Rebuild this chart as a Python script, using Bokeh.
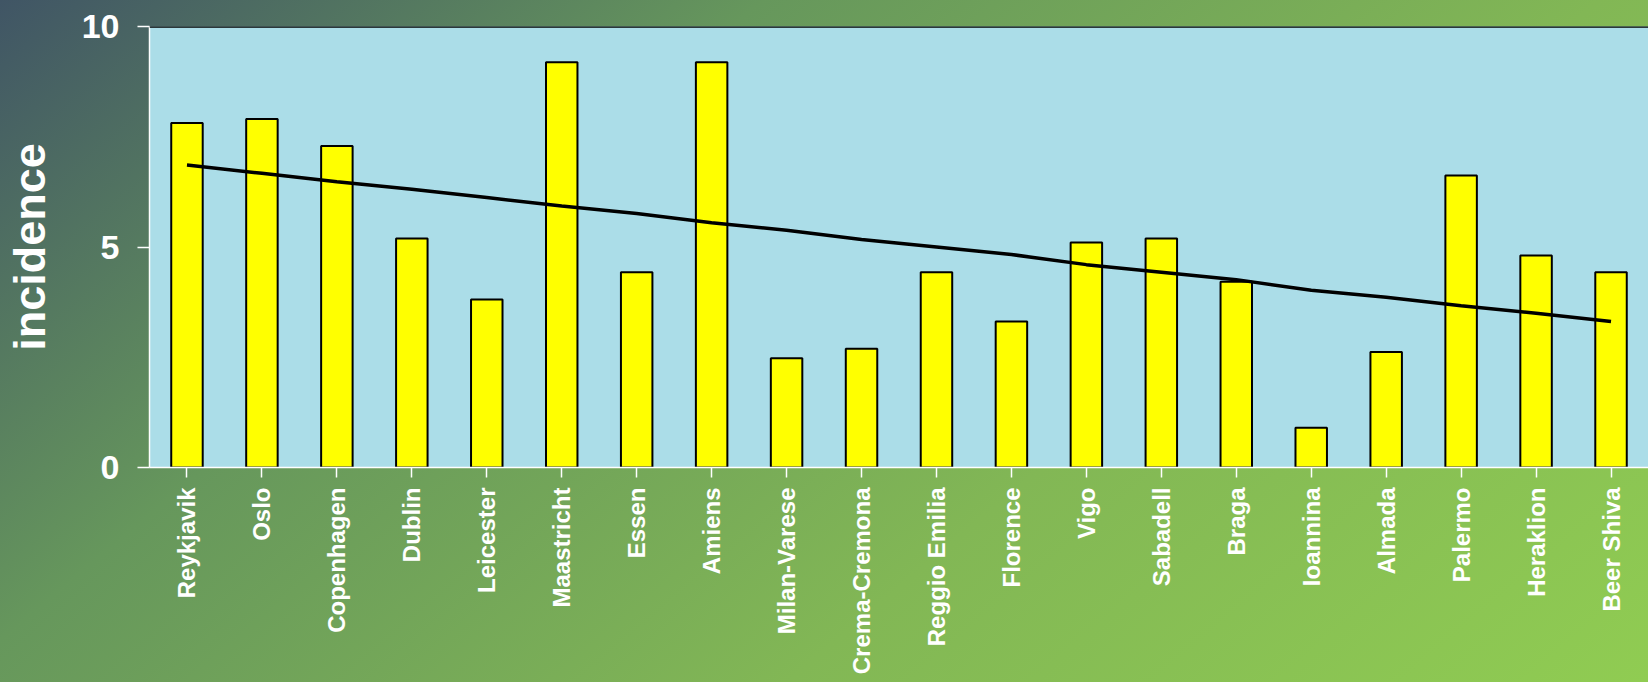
import math
from bokeh.plotting import figure
from bokeh.models import FactorRange, Range1d, FixedTicker, Span
from bokeh.embed import file_html
from bokeh.resources import INLINE

cities = ["Reykjavik", "Oslo", "Copenhagen", "Dublin", "Leicester", "Maastricht",
          "Essen", "Amiens", "Milan-Varese", "Crema-Cremona", "Reggio Emilia",
          "Florence", "Vigo", "Sabadell", "Braga", "Ioannina", "Almada",
          "Palermo", "Heraklion", "Beer Shiva"]
incidence = [7.81, 7.9, 7.29, 5.19, 3.81, 9.19, 4.43, 9.19, 2.48, 2.69, 4.43,
             3.31, 5.1, 5.19, 4.21, 0.9, 2.62, 6.62, 4.81, 4.43]
trend = [6.86, 6.67, 6.48, 6.31, 6.12, 5.93, 5.76, 5.55, 5.38, 5.17, 5.0,
         4.83, 4.6, 4.43, 4.26, 4.02, 3.86, 3.67, 3.5, 3.31]
y_ticks = [0, 5, 10]

FONT = "Liberation Sans"

p = figure(width=1648, height=682, output_backend="svg", toolbar_location=None,
           x_range=FactorRange(*cities, range_padding=0), y_range=Range1d(0, 10),
           min_border_left=148, min_border_top=26, min_border_bottom=215,
           min_border_right=0)
p.styles = {"background-image":
            "linear-gradient(140deg, #405565 0%, #66975c 31%, #82b755 65%, #90cc52 100%)"}
p.border_fill_color = None
p.background_fill_color = "#abdde8"
p.outline_line_color = None
p.grid.visible = False

p.vbar(x=cities, top=incidence, width=0.42, fill_color="#ffff00",
       line_color="black", line_width=2)
p.line(x=cities, y=trend, line_color="black", line_width=3.5)

p.add_layout(Span(location=10, dimension="width", line_color="black", line_width=2.5))

ya = p.yaxis[0]
ya.ticker = FixedTicker(ticks=y_ticks)
ya.minor_tick_line_color = None
ya.axis_line_color = "white"
ya.axis_line_width = 1.5
ya.major_tick_line_color = "white"
ya.major_tick_line_width = 1.5
ya.major_tick_out = 12
ya.major_tick_in = 0
ya.major_label_text_color = "white"
ya.major_label_text_font = FONT
ya.major_label_text_font_style = "bold"
ya.major_label_text_font_size = "34px"
ya.major_label_standoff = 18
ya.axis_label = "incidence"
ya.axis_label_text_color = "white"
ya.axis_label_text_font = FONT
ya.axis_label_text_font_style = "bold"
ya.axis_label_text_font_size = "45px"
ya.axis_label_standoff = 24

xa = p.xaxis[0]
xa.axis_line_color = "white"
xa.axis_line_width = 1.5
xa.major_tick_line_color = "white"
xa.major_tick_line_width = 1.5
xa.major_tick_out = 10
xa.major_tick_in = 0
xa.major_label_orientation = math.pi / 2
xa.major_label_text_color = "white"
xa.major_label_text_font = FONT
xa.major_label_text_font_style = "bold"
xa.major_label_text_font_size = "24px"
xa.major_label_standoff = 10

open("out.html", "w").write(file_html(p, INLINE))
